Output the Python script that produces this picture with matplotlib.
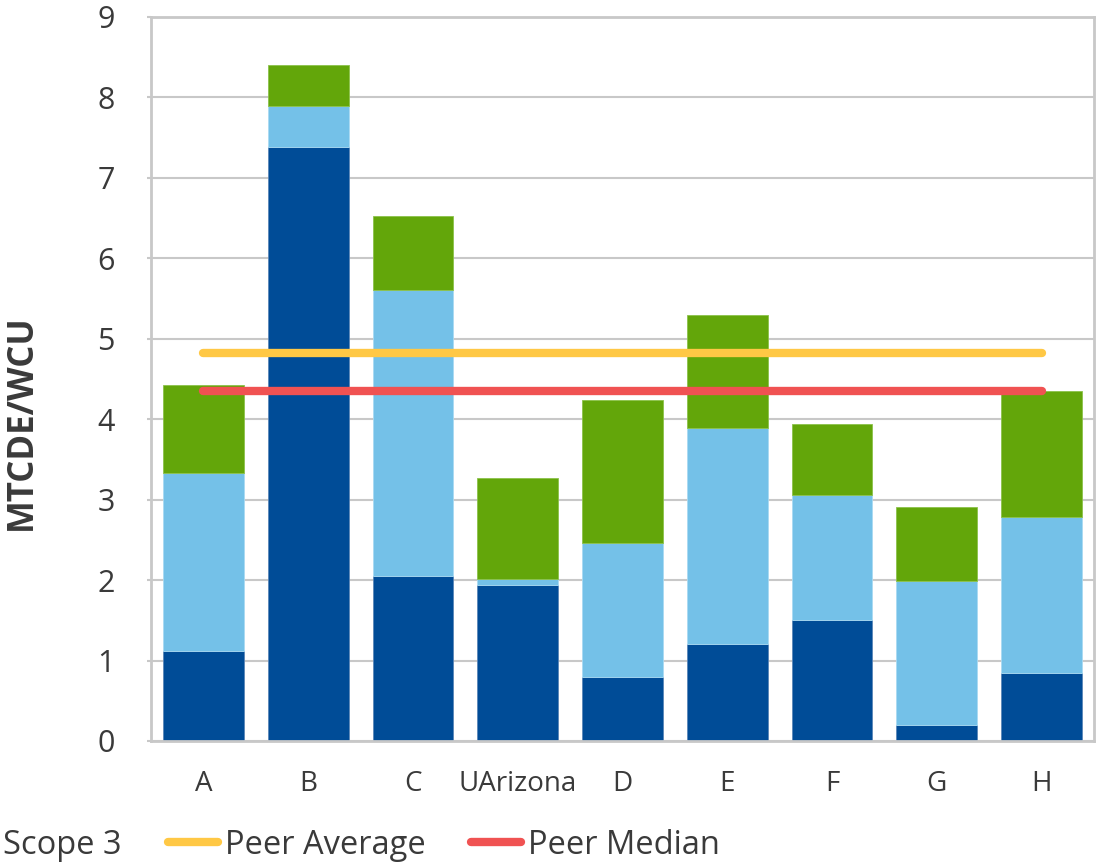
import matplotlib
matplotlib.use("Agg")
import matplotlib.pyplot as plt
from matplotlib.patches import Patch
from matplotlib.lines import Line2D
import numpy as np

plt.rcParams['font.family'] = ['Open Sans', 'DejaVu Sans']

# emissions per weighted campus user, by scope
schools = ['A', 'B', 'C', 'UArizona', 'D', 'E', 'F', 'G', 'H']
scope1 = [1.12, 7.39, 2.05, 1.94, 0.80, 1.21, 1.50, 0.20, 0.85]
scope2 = [2.21, 0.50, 3.56, 0.07, 1.66, 2.68, 1.56, 1.79, 1.93]
scope3 = [1.09, 0.51, 0.92, 1.26, 1.78, 1.41, 0.88, 0.92, 1.57]
peer_average = 4.82
peer_median = 4.35

dark_blue = '#004C97'
light_blue = '#74C1E8'
green = '#63A60A'
yellow = '#FFC845'
red = '#F05252'
text_col = '#3a3a3a'
grid_col = '#c8c8c8'

fig = plt.figure(figsize=(11.04, 8.65), dpi=100)
ax = fig.add_axes([151/1104, 124/865, 943/1104, 724/865])

x = np.arange(len(schools))
s1 = np.array(scope1)
s2 = np.array(scope2)
s3 = np.array(scope3)
w = 0.77
ax.bar(x, s1, w, color=dark_blue, edgecolor='#5b86b8', linewidth=0.6, zorder=2)
ax.bar(x, s2, w, bottom=s1, color=light_blue, edgecolor='#a9daf2', linewidth=0.6, zorder=2)
ax.bar(x, s3, w, bottom=s1 + s2, color=green, edgecolor='#8cc24a', linewidth=0.6, zorder=2)

ax.plot([x[0], x[-1]], [peer_average] * 2, color=yellow, lw=6, solid_capstyle='round', zorder=3)
ax.plot([x[0], x[-1]], [peer_median] * 2, color=red, lw=6, solid_capstyle='round', zorder=3)

ax.set_xlim(-0.5, len(schools) - 0.5)
ax.set_ylim(0, 9)
ax.set_yticks(range(10))
ax.set_xticks(x)
ax.set_xticklabels(schools)
ax.yaxis.grid(True, color=grid_col, lw=1.5, zorder=0)
ax.set_axisbelow(True)

for sp in ax.spines.values():
    sp.set_color(grid_col)
    sp.set_linewidth(2)

ax.tick_params(axis='y', labelsize=22, colors=grid_col, labelcolor=text_col,
               length=3, width=1.5, pad=23)
ax.tick_params(axis='x', labelsize=20, length=0, labelcolor=text_col, pad=21)

ax.set_ylabel('MTCDE/WCU', fontsize=25, fontweight='bold', color=text_col)
ax.yaxis.set_label_coords(-0.118, 0.44)

# legend sits partly past the left edge; only the last scope entry shows
handles = [
    Patch(color=green),
    Line2D([], [], color=yellow, lw=6, solid_capstyle='round'),
    Line2D([], [], color=red, lw=6, solid_capstyle='round'),
]
labels = ['Scope 3', 'Peer Average', 'Peer Median']
leg = fig.legend(handles, labels, loc='center right', bbox_to_anchor=(720/1104, 20/865),
                 ncol=3, frameon=False, fontsize=23.5, handlelength=1.53,
                 handletextpad=0.21, columnspacing=1.41, borderpad=0, borderaxespad=0)
for t in leg.get_texts():
    t.set_color(text_col)

fig.savefig('out.png', dpi=100)
